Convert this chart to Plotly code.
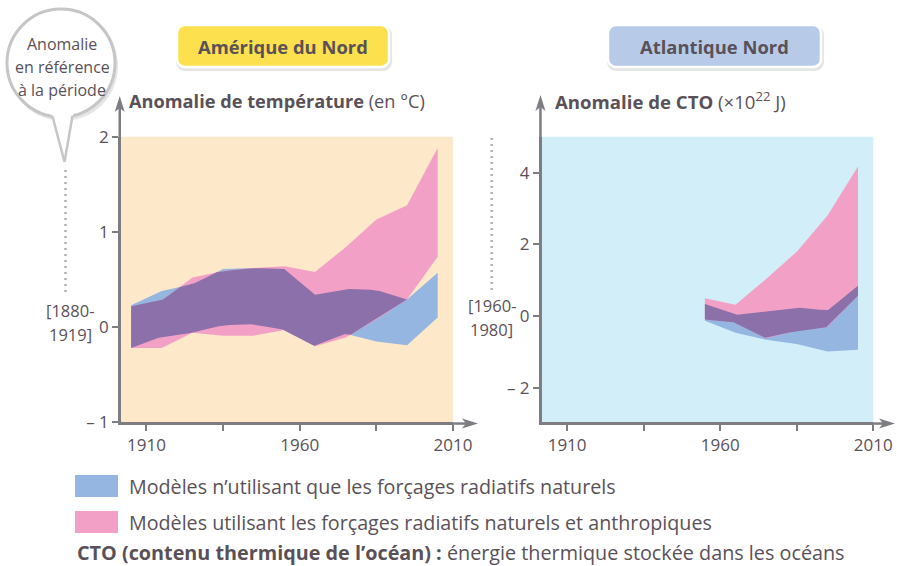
import numpy as np
import plotly.graph_objects as go

W, H = 897, 566

# ---------------- DATA ----------------
# Amérique du Nord : anomalie de température (°C), ref. 1880-1919
years_na = [1905, 1915, 1925, 1935, 1945, 1955, 1965, 1975, 1985, 1995, 2005]
nat_low_na = [-0.22, -0.10, -0.06, 0.02, 0.03, -0.03, -0.20, -0.07, -0.15, -0.19, 0.10]
nat_high_na = [0.23, 0.38, 0.45, 0.61, 0.62, 0.61, 0.34, 0.40, 0.39, 0.29, 0.57]
ant_low_na = [-0.22, -0.22, -0.06, -0.09, -0.09, -0.03, -0.20, -0.11, 0.08, 0.29, 0.74]
ant_high_na = [0.22, 0.28, 0.52, 0.59, 0.62, 0.64, 0.58, 0.84, 1.13, 1.28, 1.88]

# Atlantique Nord : anomalie de CTO (x10^22 J), ref. 1960-1980
years_an = [1955, 1965, 1975, 1985, 1995, 2005]
nat_low_an = [-0.12, -0.46, -0.65, -0.77, -0.98, -0.93]
nat_high_an = [0.34, 0.04, 0.13, 0.25, 0.16, 0.85]
ant_low_an = [-0.09, -0.17, -0.61, -0.40, -0.30, 0.57]
ant_high_an = [0.50, 0.32, 1.04, 1.80, 2.80, 4.17]

x_tickvals = [1910, 1960, 2010]
x_ticktext = ["1910", "1960", "2010"]
x_minor_ticks = [1935, 1985]
y_tickvals_na = [2, 1, 0, -1]
y_ticktext_na = ["2", "1", "0", "– 1"]
y_tickvals_an = [4, 2, 0, -2]
y_ticktext_an = ["4", "2", "0", "– 2"]

legend_labels = [
    "Modèles n’utilisant que les forçages radiatifs naturels",
    "Modèles utilisant les forçages radiatifs naturels et anthropiques",
]
# --------------------------------------

FONT = "'Open Sans', Lato, sans-serif"
TXT = "#5a5158"
AX = "#7d7d82"
BLUE = "#94b6e0"
PINK = "#f3a0c6"
PURPLE = "#8b70a9"
BG_NA = "#fde8c9"
BG_AN = "#d2eef8"


def fx(x):
    return x / W


def fy(y):
    return 1 - y / H


def P(x, y):
    return f"{fx(x):.5f},{fy(y):.5f}"


def band_trace(x, lo, hi, color, xa, ya):
    xs = list(x) + list(x)[::-1]
    ys = list(hi) + list(lo)[::-1]
    return go.Scatter(x=xs, y=ys, fill="toself", fillcolor=color, mode="lines",
                      line=dict(width=0, color=color), hoverinfo="skip",
                      showlegend=False, xaxis=xa, yaxis=ya)


def overlap_traces(x, lo1, hi1, lo2, hi2, xa, ya):
    n = int(round((x[-1] - x[0]) * 20)) + 1
    xs = np.linspace(x[0], x[-1], n)
    lo = np.maximum(np.interp(xs, x, lo1), np.interp(xs, x, lo2))
    hi = np.minimum(np.interp(xs, x, hi1), np.interp(xs, x, hi2))
    mask = hi > lo
    out = []
    i = 0
    while i < n:
        if mask[i]:
            j = i
            while j < n and mask[j]:
                j += 1
            sx = xs[i:j]
            px_ = np.concatenate([sx, sx[::-1]])
            py_ = np.concatenate([hi[i:j], lo[i:j][::-1]])
            out.append(go.Scatter(x=px_, y=py_, fill="toself", fillcolor=PURPLE,
                                  mode="lines", line=dict(width=0, color=PURPLE),
                                  hoverinfo="skip", showlegend=False,
                                  xaxis=xa, yaxis=ya))
            i = j
        else:
            i += 1
    return out


fig = go.Figure()
for xa, ya, yrs, nl, nh, al, ah in [
    ("x", "y", years_na, nat_low_na, nat_high_na, ant_low_na, ant_high_na),
    ("x2", "y2", years_an, nat_low_an, nat_high_an, ant_low_an, ant_high_an),
]:
    fig.add_trace(band_trace(yrs, nl, nh, BLUE, xa, ya))
    fig.add_trace(band_trace(yrs, al, ah, PINK, xa, ya))
    for t in overlap_traces(yrs, nl, nh, al, ah, xa, ya):
        fig.add_trace(t)

# plot pixel geometry
L1, R1 = 121, 453
L2, R2 = 541.7, 873.3
TOP, BOT = 136.7, 422.3

axis_common = dict(showgrid=False, zeroline=False, showline=True, linecolor=AX,
                   linewidth=2.5, ticks="outside", ticklen=6, tickwidth=1.5,
                   tickcolor=AX, tickfont=dict(family=FONT, size=17, color=TXT),
                   fixedrange=True, automargin=False)
minor_x = dict(tickvals=x_minor_ticks, ticks="outside", ticklen=6, tickwidth=1.5,
               tickcolor=AX, showgrid=False)

fig.update_layout(
    width=W, height=H, margin=dict(l=0, r=0, t=0, b=0, autoexpand=False),
    paper_bgcolor="white", plot_bgcolor="white", showlegend=False,
    font=dict(family=FONT, color=TXT),
    xaxis=dict(domain=[fx(L1), fx(R1)], range=[1901.7, 2010], anchor="y",
               tickvals=x_tickvals, ticktext=x_ticktext, minor=minor_x, **axis_common),
    yaxis=dict(domain=[fy(BOT), fy(TOP)], range=[-1, 2], anchor="x",
               tickvals=y_tickvals_na, ticktext=y_ticktext_na, **axis_common),
    xaxis2=dict(domain=[fx(L2), fx(R2)], range=[1901.7, 2010], anchor="y2",
                tickvals=x_tickvals, ticktext=x_ticktext, minor=minor_x, **axis_common),
    yaxis2=dict(domain=[fy(BOT), fy(TOP)], range=[-2.95, 5.0], anchor="x2",
                tickvals=y_tickvals_an, ticktext=y_ticktext_an, **axis_common),
)

shapes = []
# plot backgrounds
shapes.append(dict(type="rect", xref="x domain", yref="y domain", x0=0, x1=1, y0=0, y1=1,
                   fillcolor=BG_NA, line=dict(width=0), layer="below"))
shapes.append(dict(type="rect", xref="x2 domain", yref="y2 domain", x0=0, x1=1, y0=0, y1=1,
                   fillcolor=BG_AN, line=dict(width=0), layer="below"))


def line(x0, y0, x1, y1, color=AX, width=2.5, dash=None):
    d = dict(type="line", xref="paper", yref="paper", x0=fx(x0), y0=fy(y0),
             x1=fx(x1), y1=fy(y1), line=dict(color=color, width=width))
    if dash:
        d["line"]["dash"] = dash
    return d


def path(pts, fill, lcolor=None, lwidth=0, close=True):
    s = "M " + " L ".join(P(x, y) for x, y in pts) + (" Z" if close else "")
    return dict(type="path", xref="paper", yref="paper", path=s, fillcolor=fill,
                line=dict(color=lcolor or fill, width=lwidth))


def arrow_up(x, tip):
    return path([(x, tip), (x + 5, tip + 16), (x, tip + 12), (x - 5, tip + 16)], AX)


def arrow_right(tip, y):
    return path([(tip, y), (tip - 16, y - 5), (tip - 12, y), (tip - 16, y + 5)], AX)


# axis extensions with arrows
yl1 = L1 - 1.25
yl2 = L2 - 1.25
xb = BOT + 1.25
shapes += [line(yl1, TOP + 1, yl1, 106), arrow_up(yl1, 96),
           line(R1 - 1, xb, 466, xb), arrow_right(478, xb),
           line(yl2, TOP + 1, yl2, 106), arrow_up(yl2, 95),
           line(R2 - 1, xb, 884, xb), arrow_right(895, xb)]


def rrect(x0, y0, x1, y1, r):
    c = 0.45 * r
    return (f"M {P(x0 + r, y0)} L {P(x1 - r, y0)} C {P(x1 - c, y0)} {P(x1, y0 + c)} {P(x1, y0 + r)} "
            f"L {P(x1, y1 - r)} C {P(x1, y1 - c)} {P(x1 - c, y1)} {P(x1 - r, y1)} "
            f"L {P(x0 + r, y1)} C {P(x0 + c, y1)} {P(x0, y1 - c)} {P(x0, y1 - r)} "
            f"L {P(x0, y0 + r)} C {P(x0, y0 + c)} {P(x0 + c, y0)} {P(x0 + r, y0)} Z")


for (bx0, bx1, col) in [(177, 389, "#fde04e"), (608, 821, "#b7cbe8")]:
    shapes.append(dict(type="path", xref="paper", yref="paper", path=rrect(bx0 - 1, 26, bx1 + 3, 71, 9),
                       fillcolor="rgba(0,0,0,0.10)", line=dict(width=0)))
    shapes.append(dict(type="path", xref="paper", yref="paper", path=rrect(bx0, 25, bx1, 67, 8),
                       fillcolor=col, line=dict(color="white", width=2.5)))

# speech bubble
cx, cy, r = 61, 63, 54
shapes.append(dict(type="circle", xref="paper", yref="paper", x0=fx(cx - r + 1), x1=fx(cx + r + 3),
                   y0=fy(cy + r + 4), y1=fy(cy - r + 2), fillcolor="rgba(0,0,0,0.10)", line=dict(width=0)))
shapes.append(dict(type="circle", xref="paper", yref="paper", x0=fx(cx - r), x1=fx(cx + r),
                   y0=fy(cy + r), y1=fy(cy - r), fillcolor="white", line=dict(color="#c6c6c6", width=3)))
shapes.append(path([(51.5, 112), (73.5, 112), (64.5, 162)], "white"))
shapes.append(line(52.5, 116.3, 64.5, 162, color="#c6c6c6", width=2.5))
shapes.append(line(72.5, 115.8, 64.5, 162, color="#c6c6c6", width=2.5))

# dotted reference lines
shapes.append(line(65.5, 170, 65.5, 292, color="#b3b3b3", width=2.5, dash="2px,4px"))
shapes.append(line(491.7, 138, 491.7, 290, color="#b3b3b3", width=2.5, dash="2px,4px"))

# legend squares
shapes.append(dict(type="rect", xref="paper", yref="paper", x0=fx(75), x1=fx(118), y0=fy(497), y1=fy(475),
                   fillcolor=BLUE, line=dict(width=0)))
shapes.append(dict(type="rect", xref="paper", yref="paper", x0=fx(75), x1=fx(118), y0=fy(533), y1=fy(511),
                   fillcolor=PINK, line=dict(width=0)))

fig.update_layout(shapes=shapes)


def ann(text, x, y, size=17, xanchor="center", color=TXT, pad=1):
    fig.add_annotation(text=text, x=fx(x), y=fy(y), xref="paper", yref="paper",
                       xanchor=xanchor, yanchor="middle", showarrow=False, borderpad=pad,
                       font=dict(family=FONT, size=size, color=color))


ann("<b>Amérique du Nord</b>", 283, 46, size=18.4)
ann("<b>Atlantique Nord</b>", 714.5, 46, size=18.4)
ann("<b>Anomalie de température</b> (en °C)", 127, 101, size=18.2, xanchor="left")
ann("<b>Anomalie de CTO</b> (×10<sup>22</sup> J)", 553, 101, size=18.6, xanchor="left")
ann("Anomalie", 62, 44, size=16)
ann("en référence", 62, 67, size=16)
ann("à la période", 62, 90, size=16)
ann("[1880-", 70, 310, size=16.5)
ann("1919]", 70, 334, size=16.5)
ann("[1960-", 492, 305, size=16.5)
ann("1980]", 492, 329, size=16.5)
ann(legend_labels[0], 127, 486, size=19.7, xanchor="left")
ann(legend_labels[1], 127, 522, size=19.7, xanchor="left")
ann("<b>CTO (contenu thermique de l’océan) :</b> énergie thermique stockée dans les océans",
    76, 552, size=19.8, xanchor="left", pad=0)

fig.write_html("out.html", post_script="document.body.style.margin='0';",
               config={"displayModeBar": False})
